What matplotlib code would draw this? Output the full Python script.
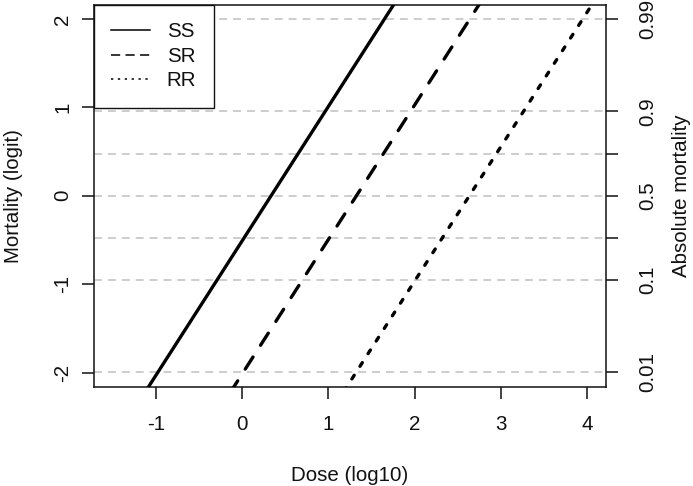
import numpy as np
import matplotlib
matplotlib.use('Agg')
import matplotlib.pyplot as plt
from matplotlib.lines import Line2D

plt.rcParams['font.family'] = ['Liberation Sans', 'DejaVu Sans']

# dose (log10) at the two ends of each dose-response line
logit_ends = [-2.5, 2.5]
ss_dose = [-1.31, 1.98]
sr_dose = [-0.32, 2.97]
rr_dose = [0.99, 4.28]

genotypes = ['SS', 'SR', 'RR']
x_ticks = [-1, 0, 1, 2, 3, 4]
y_ticks = [-2, -1, 0, 1, 2]
abs_mortality = [0.01, 0.1, 0.25, 0.5, 0.75, 0.9, 0.99]
abs_labels = ['0.01', '0.1', '', '0.5', '', '0.9', '0.99']

FS = 14.8
INK = '#111111'


def logit10(p):
    p = np.asarray(p)
    return np.log10(p / (1 - p))


fig = plt.figure(figsize=(6.93, 4.86), dpi=100)
ax = fig.add_axes([0.1356, 0.2043, 0.7389, 0.786])

grid_y = logit10(abs_mortality)
for g in grid_y:
    ax.axhline(g, color='#c0c0c0', lw=1.1, dashes=(5.2, 3.9), zorder=1)

line_kw = dict(color='black', lw=2.4, zorder=3,
               dash_capstyle='round', solid_capstyle='round')
ax.plot(ss_dose, logit_ends, ls='-', **line_kw)
ax.plot(sr_dose, logit_ends, dashes=(4.3, 4.2), **line_kw)
ax.plot(rr_dose, logit_ends, dashes=(1.3, 3.2), **line_kw)

ax.set_xlim(-1.72, 4.22)
ax.set_ylim(-2.16, 2.16)
ax.set_xticks(x_ticks)
ax.set_xticklabels([str(v) for v in x_ticks])
ax.set_yticks(y_ticks)
ax.set_yticklabels([str(v) for v in y_ticks])

for s in ax.spines.values():
    s.set_linewidth(1.1)
    s.set_color(INK)

ax.tick_params(axis='x', length=8.6, width=1.1, color=INK, pad=11.5,
               labelsize=FS, labelcolor=INK)
ax.tick_params(axis='y', length=8.6, width=1.1, color=INK, pad=7,
               labelsize=FS, labelcolor=INK, labelrotation=90)
for lab in ax.get_yticklabels():
    lab.set_va('center')

ax.set_xlabel('Dose (log10)', fontsize=FS, color=INK, labelpad=23)
ax.set_ylabel('Mortality (logit)', fontsize=FS, color=INK, labelpad=22)

ax2 = ax.twinx()
ax2.set_ylim(ax.get_ylim())
ax2.set_yticks(grid_y)
ax2.set_yticklabels(abs_labels)
ax2.tick_params(axis='y', length=8.6, width=1.1, color=INK, pad=14.5,
                labelsize=FS, labelcolor=INK, labelrotation=90)
for lab in ax2.get_yticklabels():
    lab.set_va('center')
ax2.set_ylabel('Absolute mortality', fontsize=FS, color=INK,
               rotation=90, labelpad=10.5)
for s in ax2.spines.values():
    s.set_visible(False)

handles = [
    Line2D([], [], color='black', lw=1.1, ls='-'),
    Line2D([], [], color='black', lw=1.1, dashes=(6, 3.5)),
    Line2D([], [], color='black', lw=1.1, dashes=(1.5, 3)),
]
leg = ax2.legend(handles, genotypes, loc='upper left', bbox_to_anchor=(0, 1),
                 borderaxespad=0, fontsize=FS, fancybox=False, frameon=True,
                 framealpha=1, edgecolor=INK, borderpad=0.85,
                 handlelength=1.9, handletextpad=0.78, labelspacing=0.27)
leg.get_frame().set_linewidth(1.0)
for t in leg.get_texts():
    t.set_color(INK)

fig.savefig('out.png', dpi=100)
